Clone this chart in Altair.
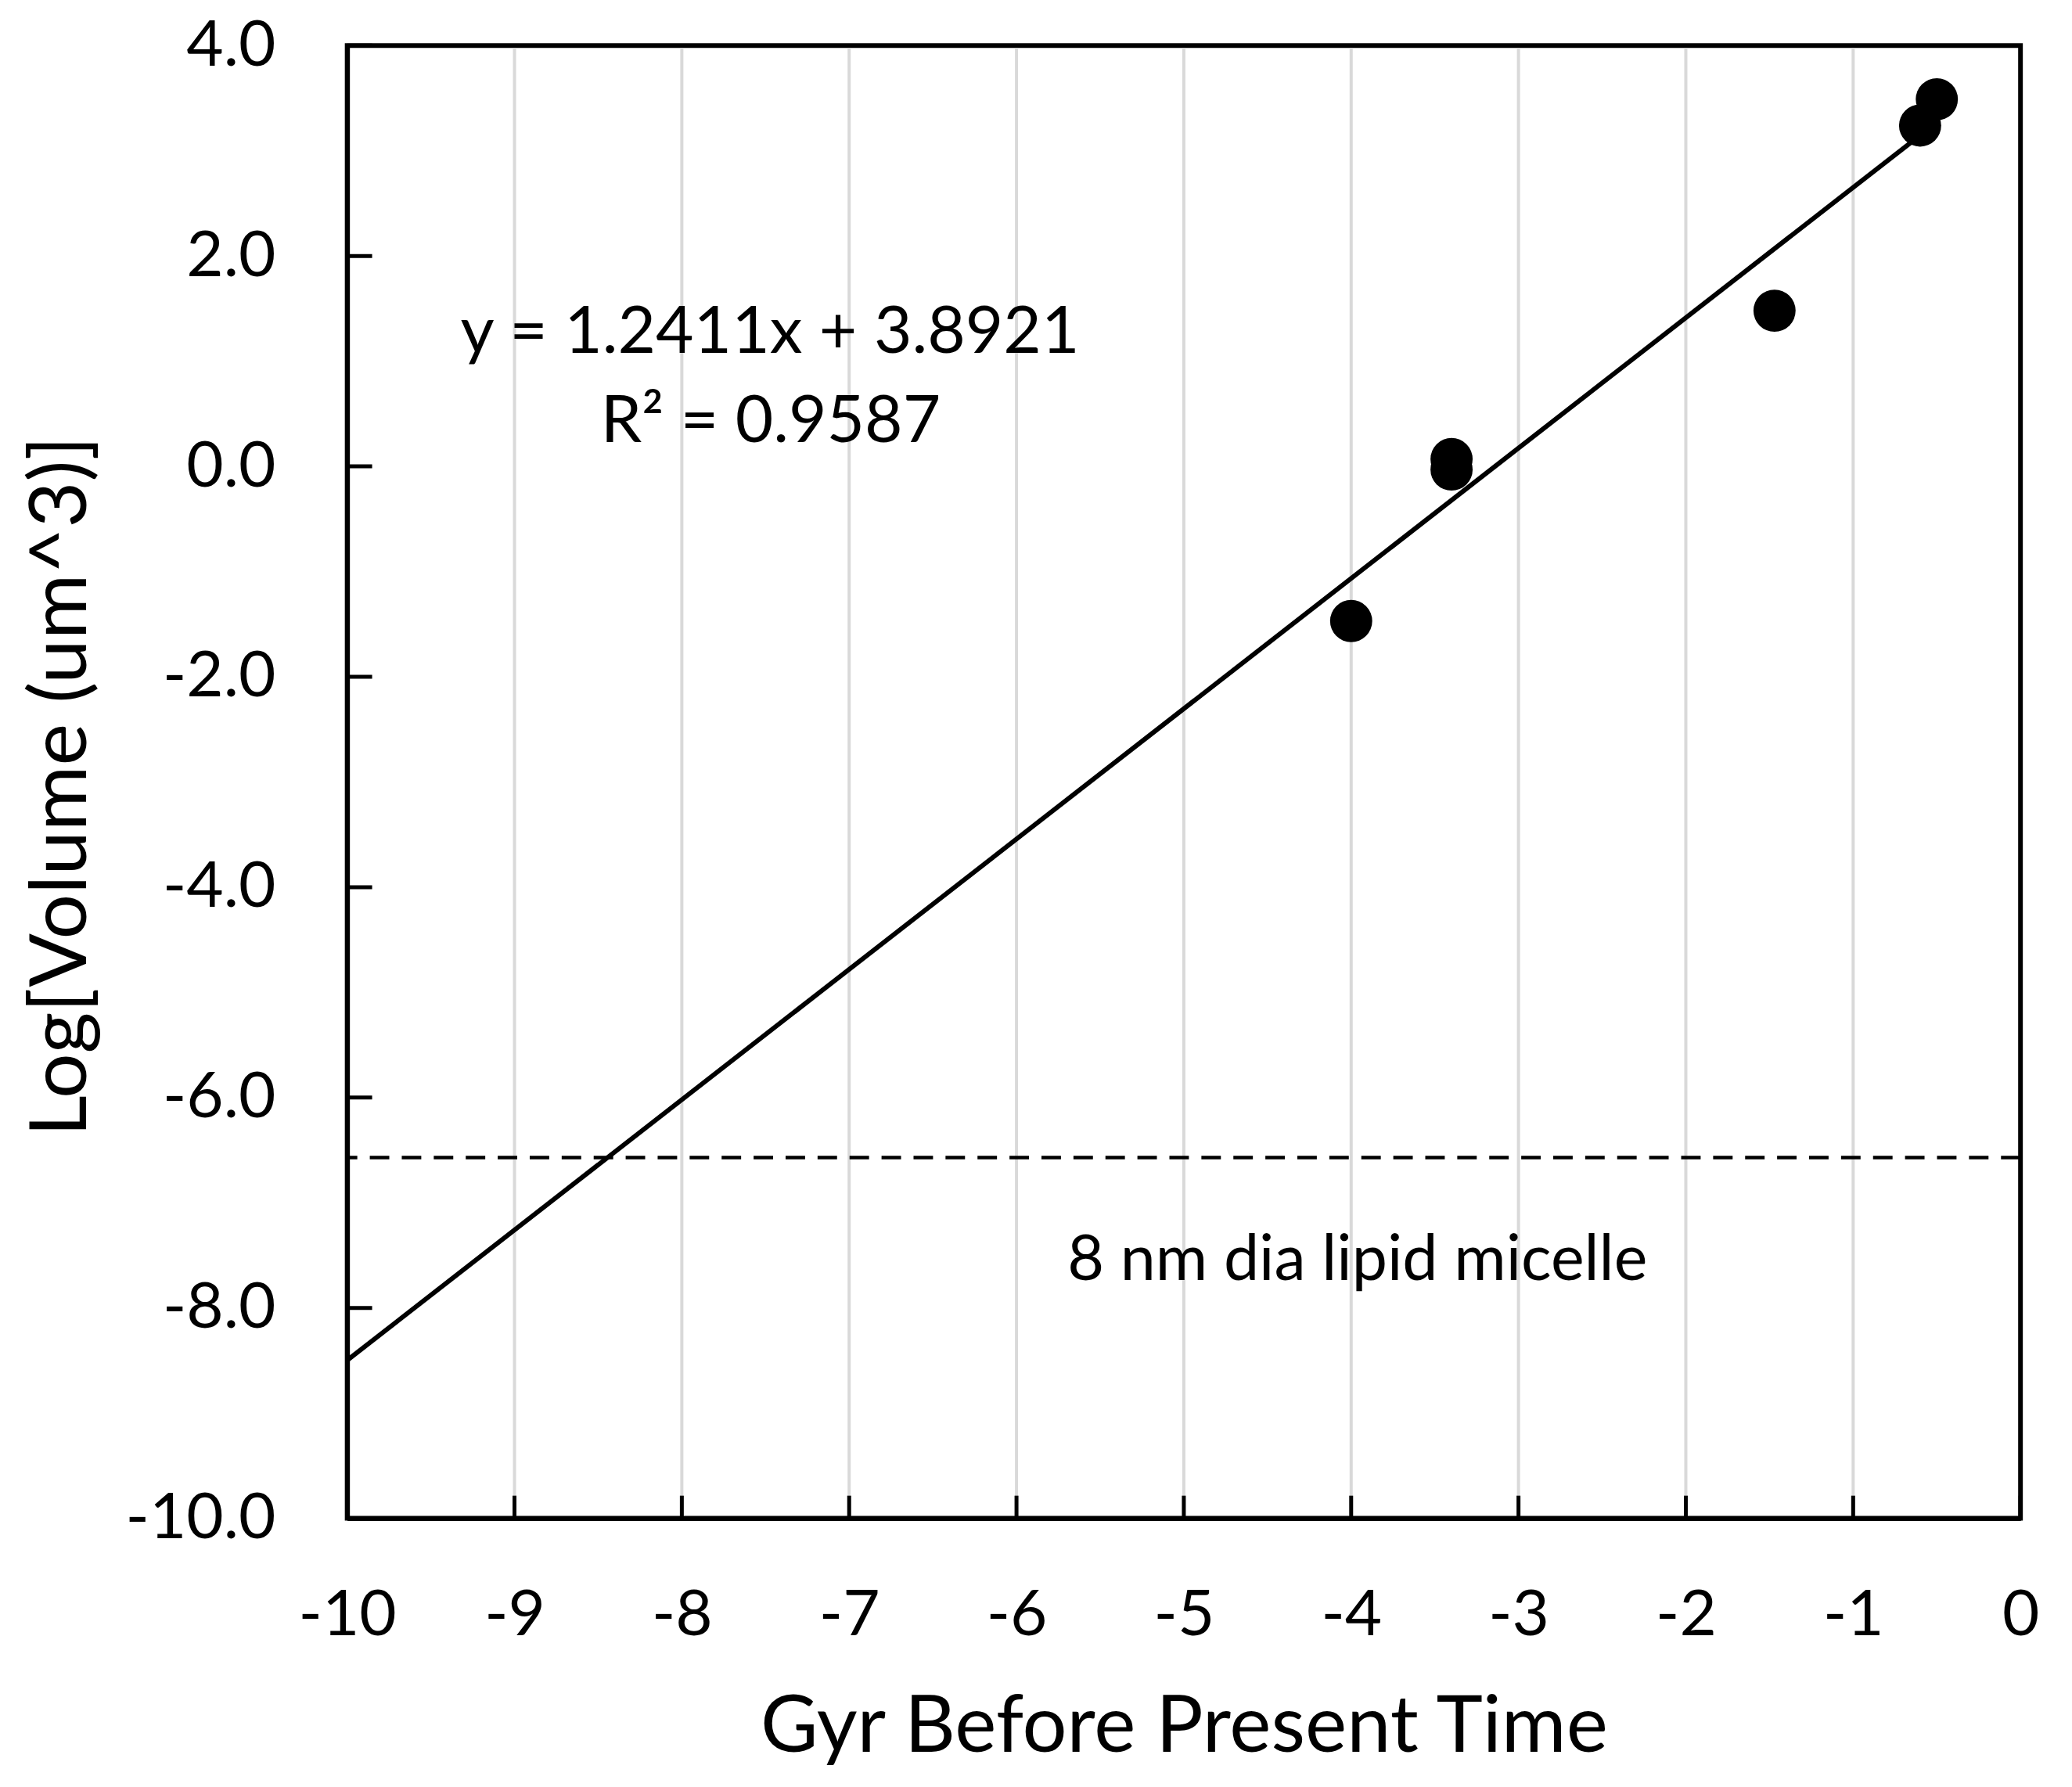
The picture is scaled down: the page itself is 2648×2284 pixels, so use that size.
import altair as alt
import pandas as pd

# ---- data ----
gyr = [-4.0, -3.4, -3.4, -1.47, -0.6, -0.5]
logv = [-1.47, 0.07, -0.03, 1.48, 3.24, 3.49]
x_ticks = list(range(-10, 1))
y_ticks = [-10, -8, -6, -4, -2, 0, 2, 4]
micelle_logv = [-6.57]
eq_text = "y = 1.2411x + 3.8921"
r2_text = "R\u00b2 = 0.9587"
micelle_text = "8 nm dia lipid micelle"
x_title = "Gyr Before Present Time"
y_title = "Log[Volume (um^3)]"

W, H = 2145, 1888
FONT = "Lato"

pts = pd.DataFrame({"gyr": gyr, "logv": logv})
xt = pd.DataFrame({"gyr": x_ticks})
grid_df = pd.DataFrame({"gyr": [v for v in x_ticks if v not in (x_ticks[0], x_ticks[-1])]})
yt = pd.DataFrame({"logv": y_ticks})
mic = pd.DataFrame({"logv": micelle_logv})

xscale = alt.Scale(domain=[x_ticks[0], x_ticks[-1]], nice=False, zero=False)
yscale = alt.Scale(domain=[y_ticks[0], y_ticks[-1]], nice=False, zero=False)

common_axis = dict(
    titleFont=FONT, labelFont=FONT, titleFontWeight="normal",
    ticks=False, tickSize=0, grid=False, domainColor="black", domainWidth=6,
    labelColor="black", titleColor="black", zindex=1, labelLimit=600,
)

xaxis = alt.Axis(
    values=x_ticks,
    labelExpr="datum.value < 0 ? '-' + format(-datum.value, 'd') : format(datum.value, 'd')",
    labelFontSize=82, labelPadding=84, labelFlush=False,
    title=x_title, titleFontSize=101, titleBaseline="alphabetic", titleY=299,
    **common_axis,
)
yaxis = alt.Axis(
    values=y_ticks,
    labelExpr="datum.value < 0 ? '-' + format(-datum.value, '.1f') : format(datum.value, '.1f')",
    labelFontSize=82, labelPadding=92,
    title=y_title, titleFontSize=102, titleBaseline="alphabetic",
    titleX=-335, titleY=949, titleAngle=270,
    **common_axis,
)

X = alt.X("gyr:Q", scale=xscale, axis=xaxis)
Y = alt.Y("logv:Q", scale=yscale, axis=yaxis)

grid = alt.Chart(grid_df).mark_rule(color="#d9d9d9", strokeWidth=4).encode(
    x=X, y=alt.value(3), y2=alt.value(H)
)

dashed = alt.Chart(mic).mark_rule(color="black", strokeWidth=4.5, strokeDash=[25, 16]).encode(
    y=Y
)

trend = alt.Chart(pts).transform_regression(
    "gyr", "logv", extent=[-10, -0.5]
).mark_line(color="black", strokeWidth=6).encode(x=X, y=Y)

points = alt.Chart(pts).mark_circle(size=2920, color="black", opacity=1).encode(x=X, y=Y)

xtick_marks = alt.Chart(xt).mark_rule(color="black", strokeWidth=5).encode(
    x=X, y=alt.value(H), y2=alt.value(H - 29)
)
ytick_marks = alt.Chart(yt).mark_rule(color="black", strokeWidth=5).encode(
    y=Y, x=alt.value(0), x2=alt.value(32)
)

def label(txt, px, py, size):
    return alt.Chart(pd.DataFrame({"t": [txt]})).mark_text(
        font=FONT, fontSize=size, color="black", align="center", baseline="alphabetic"
    ).encode(x=alt.value(px), y=alt.value(py), text="t:N")

eq = label(eq_text, 542, 394, 84)
r2 = label(r2_text, 543, 508, 84)
mic_lbl = label(micelle_text, 1295, 1582, 81)

chart = alt.layer(
    grid, dashed, trend, points, xtick_marks, ytick_marks, eq, r2, mic_lbl
).properties(
    width=W, height=H,
    background="white",
    autosize=alt.AutoSizeParams(type="none"),
    padding={"left": 437, "top": 47, "right": 58, "bottom": 341},
).configure_view(
    stroke="black", strokeWidth=6
)

chart.save("out.html", embed_options={"renderer": "svg", "actions": False})
